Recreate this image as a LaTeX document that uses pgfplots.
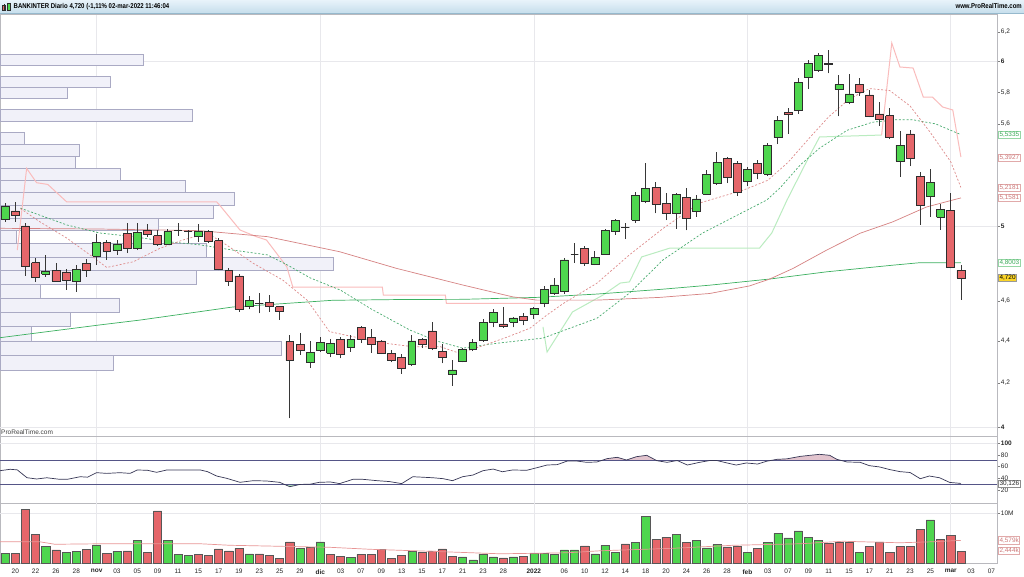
\documentclass[border=0pt]{standalone}
\usepackage{pgfplots}
\pgfplotsset{compat=1.18}
\usepackage{pgfplotstable}
\usepackage{fontspec}
\setmainfont{Liberation Sans}

\definecolor{cgreen}{RGB}{78,214,78}
\definecolor{cred}{RGB}{229,102,106}
\definecolor{cedge}{RGB}{45,45,45}
\definecolor{wickc}{RGB}{55,55,55}
\definecolor{maRed}{RGB}{214,130,130}
\definecolor{maGreen}{RGB}{60,176,96}
\definecolor{dRed}{RGB}{222,140,140}
\definecolor{dGreen}{RGB}{72,170,110}
\definecolor{stRed}{RGB}{250,188,188}
\definecolor{stGreen}{RGB}{186,236,192}
\definecolor{vpFill}{RGB}{241,241,249}
\definecolor{vpEdge}{RGB}{170,170,196}
\definecolor{gridc}{RGB}{232,232,236}
\definecolor{sepc}{RGB}{185,185,190}
\definecolor{rsiLine}{RGB}{55,55,85}
\definecolor{rsiLevel}{RGB}{85,85,135}
\definecolor{rsiPink}{RGB}{226,196,206}
\definecolor{rsiGreen}{RGB}{176,226,190}
\definecolor{volMA}{RGB}{232,150,150}
\definecolor{lblGreenT}{RGB}{60,170,90}
\definecolor{lblGreenB}{RGB}{150,215,165}
\definecolor{lblRedT}{RGB}{205,120,120}
\definecolor{lblRedB}{RGB}{225,170,170}
\definecolor{lblGold}{RGB}{250,212,40}
\definecolor{titleTop}{RGB}{232,243,250}
\definecolor{titleBot}{RGB}{198,222,236}

% daily candles: index (trading day), open, high, low, close
\pgfplotstableread{
i O H L C
-1 5.037 5.127 5.023 5.108
0 5.084 5.136 5.023 5.061
1 5.000 5.015 4.730 4.783
2 4.800 4.826 4.700 4.723
3 4.739 4.842 4.727 4.756
4 4.758 4.800 4.700 4.704
5 4.752 4.768 4.657 4.705
6 4.700 4.787 4.648 4.763
7 4.797 4.818 4.727 4.759
8 4.836 4.958 4.787 4.909
9 4.911 4.923 4.815 4.859
10 4.865 4.923 4.842 4.901
11 4.958 5.015 4.851 4.878
12 4.878 5.015 4.868 4.964
13 4.976 5.009 4.941 4.954
14 4.946 4.976 4.890 4.901
15 4.901 4.986 4.896 4.968
16 4.976 5.015 4.945 4.976
17 4.970 4.976 4.906 4.970
18 4.945 5.011 4.914 4.970
19 4.970 4.980 4.906 4.914
20 4.919 4.932 4.759 4.767
21 4.759 4.772 4.678 4.700
22 4.730 4.741 4.546 4.558
23 4.571 4.624 4.558 4.603
24 4.586 4.643 4.538 4.586
25 4.594 4.632 4.546 4.575
26 4.571 4.575 4.507 4.546
27 4.398 4.430 4.039 4.306
28 4.386 4.438 4.333 4.357
29 4.300 4.401 4.270 4.344
30 4.357 4.419 4.348 4.392
31 4.341 4.411 4.322 4.390
32 4.409 4.421 4.317 4.337
33 4.368 4.432 4.348 4.410
34 4.466 4.474 4.390 4.410
35 4.417 4.458 4.344 4.385
36 4.401 4.406 4.337 4.341
37 4.341 4.357 4.297 4.309
38 4.322 4.337 4.244 4.270
39 4.289 4.430 4.281 4.401
40 4.409 4.417 4.366 4.386
41 4.450 4.493 4.357 4.363
42 4.351 4.386 4.293 4.322
43 4.239 4.309 4.187 4.262
44 4.301 4.366 4.297 4.360
45 4.362 4.409 4.352 4.392
46 4.406 4.509 4.398 4.493
47 4.493 4.558 4.468 4.541
48 4.485 4.568 4.465 4.472
49 4.493 4.518 4.468 4.515
50 4.523 4.539 4.477 4.505
51 4.533 4.571 4.510 4.563
52 4.589 4.678 4.568 4.661
53 4.640 4.718 4.632 4.683
54 4.648 4.824 4.637 4.815
55 4.847 4.906 4.800 4.847
56 4.878 4.890 4.783 4.797
57 4.791 4.865 4.787 4.829
58 4.847 4.986 4.842 4.976
59 4.968 5.037 4.951 5.029
60 4.990 5.015 4.927 4.990
61 5.033 5.194 5.018 5.171
62 5.136 5.364 5.127 5.214
63 5.218 5.252 5.071 5.123
64 5.127 5.185 5.033 5.071
65 5.071 5.185 4.986 5.179
66 5.162 5.218 4.976 5.043
67 5.080 5.175 5.051 5.152
68 5.180 5.321 5.175 5.295
69 5.243 5.429 5.233 5.364
70 5.390 5.396 5.243 5.278
71 5.360 5.376 5.168 5.188
72 5.252 5.341 5.227 5.325
73 5.360 5.380 5.265 5.301
74 5.297 5.484 5.285 5.470
75 5.517 5.649 5.476 5.624
76 5.674 5.701 5.538 5.659
77 5.687 5.891 5.663 5.862
78 5.899 6.011 5.821 5.989
79 5.940 6.059 5.935 6.041
80 5.990 6.076 5.922 5.980
81 5.818 5.911 5.647 5.849
82 5.735 5.916 5.723 5.790
83 5.849 5.891 5.779 5.801
84 5.783 5.812 5.640 5.647
85 5.663 5.735 5.587 5.628
86 5.652 5.697 5.506 5.520
87 5.374 5.556 5.282 5.470
88 5.538 5.562 5.344 5.390
89 5.282 5.306 5.006 5.117
90 5.165 5.325 5.051 5.246
91 5.048 5.123 4.980 5.093
92 5.089 5.188 4.770 4.774
93 4.758 4.787 4.606 4.720
}\ohlc

% volume profile: price bin (lo, hi) and bar end (x index)
\pgfplotstableread{
lo hi x
5.975 6.047 12.59
5.832 5.904 9.35
5.761 5.832 5.12
5.618 5.689 17.41
5.475 5.546 0.93
5.403 5.475 6.27
5.331 5.403 5.91
5.260 5.331 10.33
5.188 5.260 16.72
5.117 5.188 21.58
5.045 5.117 19.48
4.974 5.045 14.07
4.902 4.974 0.14
4.830 4.902 18.83
4.759 4.830 31.28
4.687 4.759 17.84
4.616 4.687 2.50
4.544 4.616 10.23
4.473 4.544 5.45
4.401 4.473 1.62
4.330 4.401 26.20
4.258 4.330 9.64
}\vprof

% volume (millions), g=1 green bar
\pgfplotstableread{
i v g
-1 2.00 1
0 2.00 0
1 10.80 0
2 5.80 0
3 3.40 1
4 2.67 0
5 2.20 1
6 2.40 1
7 2.80 0
8 3.67 1
9 1.93 0
10 2.40 1
11 2.47 0
12 4.60 1
13 2.20 0
14 10.47 0
15 4.60 1
16 1.80 1
17 1.53 1
18 1.80 0
19 1.53 0
20 2.87 0
21 2.47 0
22 3.00 0
23 1.87 1
24 1.87 0
25 1.60 0
26 0.93 0
27 4.27 0
28 3.00 1
29 3.13 0
30 4.27 1
31 1.80 0
32 1.40 0
33 1.20 1
34 1.80 0
35 1.80 0
36 2.80 0
37 1.00 0
38 1.53 0
39 2.40 1
40 2.20 0
41 2.47 0
42 2.87 0
43 1.40 0
44 1.27 1
45 0.67 1
46 1.87 1
47 1.27 1
48 1.07 0
49 1.27 1
50 1.33 0
51 1.93 1
52 2.00 1
53 1.80 1
54 2.67 1
55 2.67 1
56 3.47 0
57 1.87 1
58 3.60 1
59 2.13 1
60 3.87 0
61 4.20 1
62 9.33 1
63 4.80 0
64 5.20 0
65 5.73 1
66 4.20 0
67 4.53 1
68 3.07 1
69 3.80 1
70 3.27 0
71 3.33 0
72 2.20 1
73 3.00 0
74 4.20 1
75 6.00 1
76 5.07 1
77 6.47 1
78 5.13 1
79 4.60 1
80 4.00 0
81 4.20 0
82 4.20 0
83 2.20 1
84 3.33 0
85 4.27 0
86 2.20 0
87 3.33 0
88 3.40 0
89 6.73 0
90 8.67 1
91 4.80 0
92 5.60 0
93 2.444 0
}\vol

\pgfplotstableread{
x y
-1.5 53.1
-0.5 55.5
0.2 54.5
1.15 41.1
2.1 38.9
3.1 41.0
4.4 38.3
5.1 38.3
6.4 42.8
7.1 42.0
8.0 49.7
9.0 48.5
10.3 49.7
11.3 48.5
12.0 54.3
13.0 53.8
13.9 50.3
14.9 54.3
16.9 54.3
18.2 54.3
18.9 51.5
19.8 44.0
20.8 40.0
22.1 33.2
23.4 36.0
24.7 35.5
26.0 33.2
27.0 25.7
28.0 29.6
29.0 30.0
29.9 33.2
31.0 33.8
31.9 31.0
33.2 38.3
34.2 38.3
35.6 36.0
36.8 34.5
38.0 31.0
39.1 42.8
41.1 41.0
42.1 39.4
43.0 36.0
44.0 42.8
45.0 45.6
46.0 53.1
47.0 55.9
47.9 51.3
48.9 54.3
50.3 53.8
51.3 58.2
52.3 62.8
53.3 63.5
54.3 69.7
55.2 69.7
56.2 67.4
57.2 68.0
58.2 73.7
59.2 76.0
60.1 71.4
61.1 77.1
62.1 79.4
63.1 70.2
64.1 67.4
65.1 70.5
66.1 62.8
67.3 67.4
68.3 70.5
69.0 70.5
70.0 66.3
70.9 62.8
71.9 66.3
73.0 64.5
73.9 69.3
74.9 72.5
75.9 73.4
77.2 77.6
78.1 79.3
79.1 81.1
80.1 79.4
80.8 72.5
81.8 68.0
83.1 67.4
84.0 61.7
85.0 59.5
86.0 55.0
87.0 51.5
88.0 50.0
89.0 39.4
89.9 44.0
90.9 41.0
91.9 33.0
92.9 31.5
93.0 30.126
}\rsi

\pgfplotstablegetrowsof{\ohlc}
\pgfmathtruncatemacro\nlastc{\pgfplotsretval-1}
\pgfplotstablegetrowsof{\vprof}
\pgfmathtruncatemacro\nlastv{\pgfplotsretval-1}

\pgfplotsset{
  cwick/.style={draw=wickc, line width=0.8pt},
  cup/.style={fill=cgreen, draw=cedge, line width=0.6pt},
  cdown/.style={fill=cred, draw=cedge, line width=0.6pt},
  cdoji/.style={draw=cedge, line width=0.8pt},
  vpbar/.style={fill=vpFill, draw=vpEdge, line width=0.6pt},
  gline/.style={draw=gridc, line width=0.6pt},
  panel/.style={
    scale only axis, width=997pt, xmin=-1.5, xmax=96.55,
    clip=false, axis line style={draw=sepc},
    tick align=outside, major tick length=2.5pt,
    ytick pos=right, yticklabel pos=right,
    yticklabel style={font=\fontsize{6.5}{7}\selectfont, inner sep=1.2pt, text=black!85},
    ytick style={draw=black!50, line width=0.5pt},
    xtick style={draw=none},
    major grid style={draw=gridc, line width=0.6pt},
    yminorticks=false, xminorticks=false,
  },
}
\tikzset{plbl/.style={anchor=west, xshift=1.4pt, font=\fontsize{6.4}{7}\selectfont,
  inner xsep=0.9pt, inner ysep=0.9pt, fill=white, line width=0.5pt}}

\begin{document}
\begin{tikzpicture}[x=1pt,y=1pt]
\useasboundingbox (0,0) rectangle (1024,576);
\fill[white] (0,0) rectangle (1024,576);
% title bar
\shade[top color=titleTop, bottom color=titleBot] (0,563) rectangle (1024,576);
\draw[color={rgb,255:red,150;green,185;blue,205}, line width=0.6pt] (0,563) -- (1024,563);
\filldraw[fill=cred, draw=cedge, line width=0.4pt] (2.5,566) rectangle (5.5,570.5);
\draw[cedge, line width=0.4pt] (4,565) -- (4,572);
\filldraw[fill=cgreen, draw=cedge, line width=0.4pt] (7,565.5) rectangle (10.5,572.5);
\node[anchor=west, inner sep=0pt, font=\fontsize{7}{8}\selectfont\bfseries, xscale=0.86] at (13.5,569.6)
  {BANKINTER Diario 4,720 (-1,11\% 02-mar-2022 11:46:04};
\node[anchor=east, inner sep=0pt, font=\fontsize{7}{8}\selectfont\bfseries, xscale=0.86] at (1022,569.6)
  {www.ProRealTime.com};

% ---------------- price panel (logarithmic price scale: axis in ln(price)) ----------------
\begin{axis}[panel,
  at={(0pt,139.5pt)}, anchor=south west, height=422.5pt,
  ymin=1.37575, ymax=1.84467,
  xtick={8,30,51,72,92}, xticklabels={}, xmajorgrids,
  ytick={1.386294,1.435085,1.481605,1.526056,1.609438,1.722767,1.757858,1.791759,1.824549},
  yticklabels={\textbf{4},{4,2},{4,4},{4,6},\textbf{5},{5,6},{5,8},\textbf{6},{6,2}},
]
\addplot[gline] coordinates {(-1.5,1.386294) (96.55,1.386294)};
\addplot[gline] coordinates {(-1.5,1.609438) (96.55,1.609438)};
\addplot[gline] coordinates {(-1.5,1.791759) (96.55,1.791759)};
% volume profile
\pgfplotsforeachungrouped \rr in {0,...,\nlastv}{%
  \pgfplotstablegetelem{\rr}{lo}\of\vprof\pgfmathparse{ln(\pgfplotsretval)}\let\vlo\pgfmathresult
  \pgfplotstablegetelem{\rr}{hi}\of\vprof\pgfmathparse{ln(\pgfplotsretval)}\let\vhi\pgfmathresult
  \pgfplotstablegetelem{\rr}{x}\of\vprof\let\vxx\pgfplotsretval
  \edef\doplot{\noexpand\addplot[vpbar] coordinates {(-1.5,\vlo) (\vxx,\vlo) (\vxx,\vhi) (-1.5,\vhi) (-1.5,\vlo)};}%
  \doplot
}
% supertrend-like line
\addplot[stRed, line width=1pt] table[y expr={ln(\thisrow{y})}] {
x y
0.2 4.868
1.12 5.330
2.1 5.246
3.2 5.236
5.05 5.136
19.8 5.136
20.1 5.117
22.1 4.978
23.7 4.941
24.7 4.923
26.7 4.779
27.3 4.672
36.1 4.672
36.2 4.630
42.3 4.630
42.4 4.588
51.6 4.588
};
\addplot[stGreen, line width=1pt] table[y expr={ln(\thisrow{y})}] {
x y
51.9 4.470
52.3 4.347
54.8 4.545
57.8 4.631
59.5 4.693
60.4 4.699
61.6 4.831
64.4 4.879
73.2 4.879
74.4 4.961
75.9 5.146
77.9 5.380
79.1 5.519
85.2 5.531
};
\addplot[stRed, line width=1pt] table[y expr={ln(\thisrow{y})}] {
x y
85.2 5.531
86.2 6.126
87.0 5.965
88.3 5.958
89.3 5.769
90.2 5.769
91.2 5.706
92.2 5.687
93.0 5.398
};
% long MA (green) and medium MA (red)
\addplot[maGreen, line width=0.7pt] table[y expr={ln(\thisrow{y})}] {
x y
-1.5 4.417
8.33 4.480
12.26 4.504
21.4 4.570
31.2 4.604
37.8 4.608
44.0 4.609
51.3 4.619
57.2 4.636
63.4 4.660
68.3 4.682
74.2 4.714
79.8 4.752
86.3 4.787
88.9 4.800
93.0 4.800
};
\addplot[maRed, line width=0.7pt] table[y expr={ln(\thisrow{y})}] {
x y
-1.5 4.987
8.3 4.983
18.2 4.974
24.8 4.941
31.9 4.859
37.5 4.770
44.0 4.683
48.9 4.622
51.3 4.605
57.2 4.605
63.4 4.619
68.3 4.639
72.2 4.678
74.2 4.714
76.5 4.770
79.8 4.868
83.1 4.960
86.3 5.023
89.6 5.106
92.2 5.146
93.0 5.158
};
% short MAs (dashed)
\addplot[dGreen, line width=0.7pt, dash pattern=on 2pt off 1.8pt] table[y expr={ln(\thisrow{y})}] {
x y
0.5 5.100
5.1 5.005
8.3 4.961
11.6 4.941
14.9 4.914
18.2 4.896
21.4 4.868
24.8 4.842
26.7 4.790
29.0 4.720
32.0 4.656
35.0 4.560
38.8 4.455
41.5 4.400
44.0 4.366
47.4 4.390
51.9 4.415
57.2 4.513
60.4 4.641
63.7 4.815
67.6 4.961
73.9 5.146
75.2 5.215
77.2 5.350
79.1 5.451
81.8 5.560
84.3 5.610
86.5 5.625
88.3 5.625
90.5 5.600
93.0 5.5335
};
\addplot[dRed, line width=0.7pt, dash pattern=on 2pt off 1.8pt] table[y expr={ln(\thisrow{y})}] {
x y
0.5 5.098
2.4 5.024
5.1 4.932
7.6 4.832
9.0 4.775
11.6 4.805
14.2 4.877
16.5 4.923
18.9 4.960
20.8 4.895
23.4 4.797
26.3 4.709
28.7 4.605
30.9 4.447
33.0 4.424
36.5 4.389
39.1 4.373
41.8 4.373
43.7 4.341
45.7 4.373
48.0 4.413
50.6 4.463
52.3 4.530
53.9 4.588
57.2 4.692
60.4 4.842
63.7 4.986
67.3 5.129
71.6 5.203
74.0 5.260
76.0 5.366
78.0 5.506
80.0 5.644
82.0 5.756
84.0 5.824
86.0 5.811
88.0 5.712
90.0 5.546
92.0 5.369
93.0 5.218
};
% candlesticks
\pgfplotsforeachungrouped \rr in {0,...,\nlastc}{%
  \pgfplotstablegetelem{\rr}{i}\of\ohlc\let\cdi\pgfplotsretval
  \pgfplotstablegetelem{\rr}{O}\of\ohlc\pgfmathparse{ln(\pgfplotsretval)}\let\cdo\pgfmathresult
  \pgfplotstablegetelem{\rr}{H}\of\ohlc\pgfmathparse{ln(\pgfplotsretval)}\let\cdh\pgfmathresult
  \pgfplotstablegetelem{\rr}{L}\of\ohlc\pgfmathparse{ln(\pgfplotsretval)}\let\cdl\pgfmathresult
  \pgfplotstablegetelem{\rr}{C}\of\ohlc\pgfmathparse{ln(\pgfplotsretval)}\let\cdc\pgfmathresult
  \pgfmathsetmacro\cxa{\cdi-0.39}%
  \pgfmathsetmacro\cxb{\cdi+0.39}%
  \pgfmathtruncatemacro\candS{\cdc>\cdo ? 1 : (\cdc<\cdo ? 2 : 0)}%
  \ifcase\candS\def\cst{cdoji}\or\def\cst{cup}\or\def\cst{cdown}\fi
  \edef\doplot{%
    \noexpand\addplot[cwick] coordinates {(\cdi,\cdl) (\cdi,\cdh)};%
    \noexpand\addplot[\cst] coordinates {(\cxa,\cdo) (\cxb,\cdo) (\cxb,\cdc) (\cxa,\cdc) (\cxa,\cdo)};%
  }\doplot
}
% value boxes (positions are ln of the printed values)
\node[plbl, draw=lblGreenB, text=lblGreenT] at (axis cs:96.55,1.710822) {5,5335};
\node[plbl, draw=lblRedB, text=lblRedT] at (axis cs:96.55,1.685050) {5,3927};
\node[plbl, draw=lblRedB, text=lblRedT] at (axis cs:96.55,1.652133) {5,2181};
\node[plbl, draw=lblRedB, text=lblRedT] at (axis cs:96.55,1.640569) {5,1581};
\node[plbl, draw=lblGreenB, text=lblGreenT] at (axis cs:96.55,1.568678) {4,8003};
\node[plbl, draw=black!40, fill=lblGold, text=black] at (axis cs:96.55,1.551808) {4,720};
\end{axis}
\node[anchor=west, inner sep=0pt, font=\fontsize{6.5}{7}\selectfont, text=black!75] at (1,143.5) {ProRealTime.com};

% ---------------- RSI panel ----------------
\begin{axis}[panel,
  at={(0pt,72.7pt)}, anchor=south west, height=66.8pt,
  ymin=-2.7, ymax=111.6,
  xtick={8,30,51,72,92}, xticklabels={}, xmajorgrids,
  ytick={20,40,60,80,100}, yticklabels={20,40,60,80,\textbf{100}},
]
\addplot[gline] coordinates {(-1.5,100) (96.55,100)};
\addplot[fill=rsiPink, draw=none] coordinates {(57.55,70) (58.2,73.7) (59.2,76.0) (60.1,71.4) (61.1,77.1) (62.1,79.4) (63.1,70.2) (63.17,70)};
\addplot[fill=rsiPink, draw=none] coordinates {(64.94,70) (65.1,70.5) (65.16,70)};
\addplot[fill=rsiPink, draw=none] coordinates {(68.1,70) (68.3,70.5) (69.0,70.5) (69.1,70)};
\addplot[fill=rsiPink, draw=none] coordinates {(74.12,70) (74.9,72.5) (75.9,73.4) (77.2,77.6) (78.1,79.3) (79.1,81.1) (80.1,79.4) (80.8,72.5) (81.36,70)};
\addplot[fill=rsiGreen, draw=none] coordinates {(26.43,30) (27.0,25.7) (28.0,29.6) (29.0,30)};
\addplot[rsiLevel, line width=0.9pt] coordinates {(-1.5,70) (96.55,70)};
\addplot[rsiLevel, line width=0.9pt] coordinates {(-1.5,30) (96.55,30)};
\addplot[rsiLine, line width=0.7pt] table {\rsi};
\node[plbl, draw=black!45, text=black!85] at (axis cs:96.55,30.126) {30,126};
\end{axis}

% ---------------- volume panel ----------------
\begin{axis}[panel,
  at={(0pt,12.7pt)}, anchor=south west, height=60.6pt,
  ymin=0, ymax=12.1,
  xtick={0,2,4,6,8,10,12,14,16,18,20,22,24,26,28,30,32,34,36,38,40,42,44,46,48,51,54,56,58,60,62,64,66,68,70,72,74,76,78,80,82,84,86,88,90,92,94,96},
  xticklabels={20,22,26,28,\textbf{nov},03,05,09,11,15,17,19,23,25,29,\textbf{dic},03,07,09,13,15,17,21,23,28,\textbf{2022},06,10,12,14,18,20,24,26,28,\textbf{feb},03,07,09,11,15,17,21,23,25,\textbf{mar},03,07},
  xticklabel style={font=\fontsize{6.5}{7}\selectfont, text=black!85},
  ytick={10}, yticklabels={10M},
]
\addplot[gline] coordinates {(8,0) (8,12.1)};
\addplot[gline] coordinates {(30,0) (30,12.1)};
\addplot[gline] coordinates {(51,0) (51,12.1)};
\addplot[gline] coordinates {(72,0) (72,12.1)};
\addplot[gline] coordinates {(92,0) (92,12.1)};
\addplot[gline] coordinates {(-1.5,10) (96.55,10)};
\addplot[ybar, bar width=0.8, bar shift=0pt, fill=cgreen, draw=cedge!80, line width=0.5pt,
  restrict expr to domain={\thisrow{g}}{0.5:1.5}] table[x=i, y=v] {\vol};
\addplot[ybar, bar width=0.8, bar shift=0pt, fill=cred, draw=cedge!80, line width=0.5pt,
  restrict expr to domain={\thisrow{g}}{-0.5:0.5}] table[x=i, y=v] {\vol};
\addplot[volMA, line width=0.7pt] table {
x y
-1.5 4.3
2.4 4.3
3.9 3.8
8.3 3.9
18.2 3.9
21.1 3.6
26.0 3.4
30.9 3.2
34.9 2.8
40.8 2.4
47.7 1.9
54.3 2.1
57.5 2.5
64.7 3.0
70.6 3.6
77.2 3.9
81.4 4.4
87.0 4.1
90.2 4.3
93.0 4.579
};
\node[plbl, draw=lblRedB, text=lblRedT] at (axis cs:96.55,4.579) {4,579k};
\node[plbl, draw=lblRedB, text=lblRedT] at (axis cs:96.55,2.444) {2,444k};
\end{axis}
\end{tikzpicture}
\end{document}
